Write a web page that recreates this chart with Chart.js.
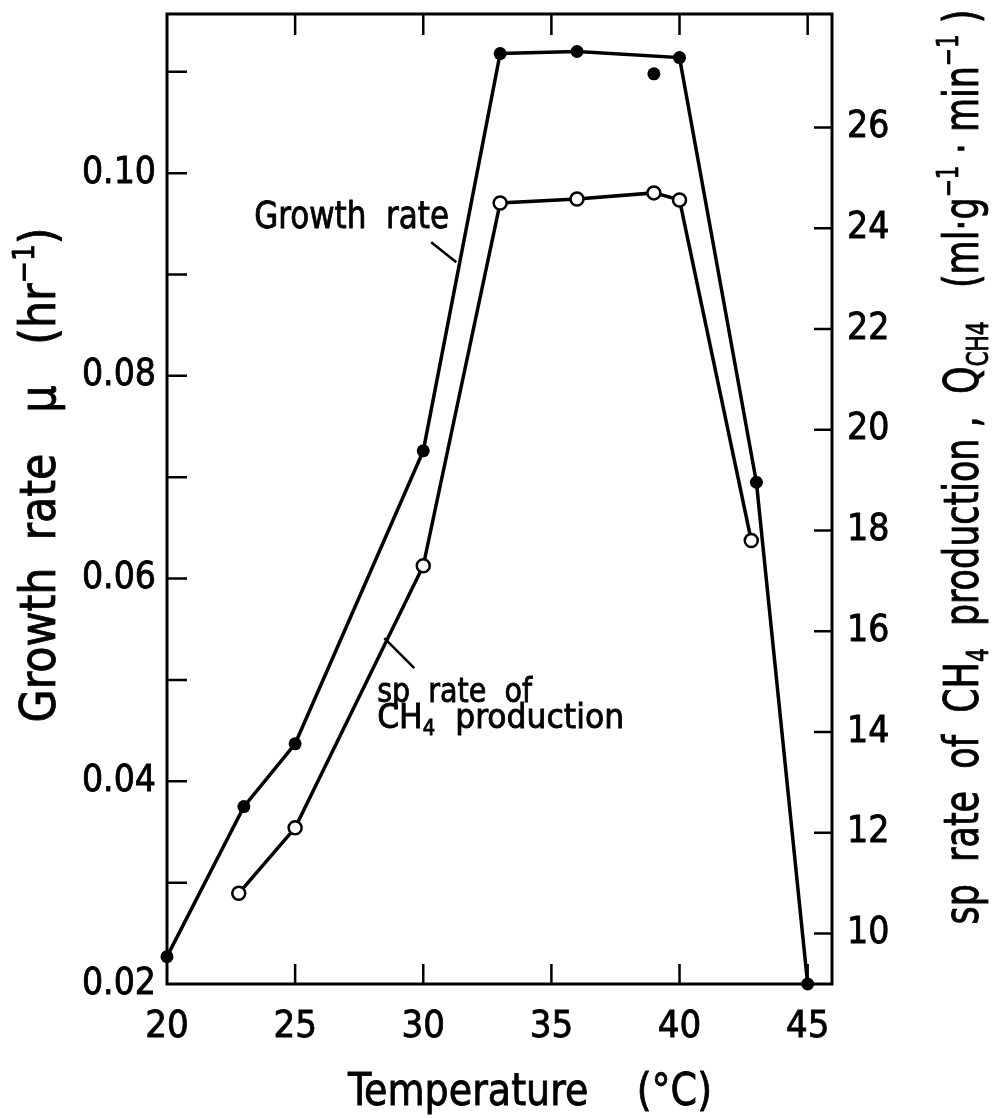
<!DOCTYPE html>
<html>
<head>
<meta charset="utf-8">
<script src="https://cdn.jsdelivr.net/npm/chart.js@4.4.1/dist/chart.umd.min.js"></script>
<style>
  html, body { margin: 0; padding: 0; background: #fff; }
  #wrap { width: 999px; height: 1118px; position: relative; }
</style>
</head>
<body>
<div id="wrap"><canvas id="grafico"></canvas></div>
<script>
// values
const growthTemps = [20, 23, 25, 30, 33, 36, 40, 43, 45];
const growthRate = [0.0227, 0.0375, 0.0437, 0.0726, 0.1118, 0.1120, 0.1114, 0.0695, 0.0200];
const strayTemps = [39];
const strayRate = [0.1098];
const ch4Temps = [22.8, 25, 30, 33, 36, 39, 40, 42.8];
const ch4Rate = [10.8, 12.1, 17.3, 24.5, 24.58, 24.7, 24.56, 17.8];

const xTicks = [20, 25, 30, 35, 40, 45];
const rightTicks = [10, 12, 14, 16, 18, 20, 22, 24, 26];

const FONT = "'DejaVu Sans Condensed', 'Liberation Sans Narrow', 'DejaVu Sans', sans-serif";

const pts = (xs, ys) => xs.map((x, i) => ({ x: x, y: ys[i] }));

// draw a line of text made of normal / sub / sup pieces, stretched to a width
function drawRich(ctx, parts, o) {
  ctx.save();
  ctx.translate(o.x, o.y);
  ctx.rotate(o.angle || 0);
  const pieces = parts.map(([t, k]) => {
    const s = k ? o.size * 0.62 : o.size;
    ctx.font = s + 'px ' + FONT;
    return { t, k, s, w: ctx.measureText(t).width };
  });
  const total = pieces.reduce((a, p) => a + p.w, 0);
  ctx.scale(o.width ? o.width / total : 1, 1);
  let cx = o.align === 'center' ? -total / 2 : 0;
  ctx.fillStyle = '#000';
  ctx.strokeStyle = '#000';
  ctx.lineWidth = 0.8;
  ctx.textAlign = 'left';
  ctx.textBaseline = 'alphabetic';
  for (const p of pieces) {
    ctx.font = p.s + 'px ' + FONT;
    const dy = p.k === 1 ? o.size * 0.2 : p.k === 2 ? -o.size * 0.42 : 0;
    ctx.fillText(p.t, cx, dy);
    ctx.strokeText(p.t, cx, dy);
    cx += p.w;
  }
  ctx.restore();
}

const noPad = s => { s.paddingTop = 0; s.paddingBottom = 0; s.paddingLeft = 0; s.paddingRight = 0; };

const frameTicks = {
  id: 'frameTicks',
  beforeDatasetsDraw(chart) {
    const { ctx, chartArea: a, scales } = chart;
    ctx.save();
    ctx.strokeStyle = '#000';
    ctx.lineWidth = 3;
    ctx.strokeRect(a.left, a.top, a.right - a.left, a.bottom - a.top);
    ctx.lineWidth = 2.5;
    ctx.beginPath();
    scales.x.ticks.forEach(t => {
      const px = scales.x.getPixelForValue(t.value);
      if (px <= a.left + 2 || px >= a.right - 2) return;
      ctx.moveTo(px, a.bottom); ctx.lineTo(px, a.bottom - 20);
      ctx.moveTo(px, a.top); ctx.lineTo(px, a.top + 21);
    });
    scales.y.ticks.forEach(t => {
      const py = scales.y.getPixelForValue(t.value);
      if (py >= a.bottom - 2) return;
      ctx.moveTo(a.left, py); ctx.lineTo(a.left + 20, py);
    });
    scales.y2.ticks.forEach(t => {
      const py = scales.y2.getPixelForValue(t.value);
      if (py >= a.bottom - 2) return;
      ctx.moveTo(a.right, py); ctx.lineTo(a.right - 18, py);
    });
    ctx.stroke();
    ctx.restore();
  },
  afterDraw(chart) {
    const { ctx, scales } = chart;
    const X = v => scales.x.getPixelForValue(v);
    const Y = v => scales.y.getPixelForValue(v);

    // axis titles
    drawRich(ctx, [['Growth  rate   \u03bc   (hr', 0], ['\u22121', 2], [')', 0]],
      { x: 55, y: 475, angle: -Math.PI / 2, size: 50, width: 495, align: 'center' });
    drawRich(ctx, [['sp  rate  of  CH', 0], ['4', 1], ['  production ,  Q', 0], ['CH4', 1],
      ['   (ml\u00b7g', 0], ['\u22121', 2], [' \u00b7 min', 0], ['\u22121', 2], [' )', 0]],
      { x: 978, y: 467, angle: -Math.PI / 2, size: 48, width: 915, align: 'center' });
    drawRich(ctx, [['Temperature    (\u00b0C)', 0]],
      { x: 530, y: 1105, size: 45, width: 364, align: 'center' });

    // in-plot labels with leader lines
    drawRich(ctx, [['Growth  rate', 0]], { x: X(23.4), y: Y(0.09456), size: 38, width: 195 });
    drawRich(ctx, [['sp  rate  of', 0]], { x: X(28.2), y: Y(0.04781), size: 34, width: 155 });
    drawRich(ctx, [['CH', 0], ['4', 1], ['  production', 0]], { x: X(28.2), y: Y(0.04525), size: 34, width: 247 });
    ctx.save();
    ctx.strokeStyle = '#000';
    ctx.lineWidth = 2.5;
    ctx.beginPath();
    ctx.moveTo(X(30.31), Y(0.09318)); ctx.lineTo(X(31.29), Y(0.0912));
    ctx.moveTo(X(28.48), Y(0.05412)); ctx.lineTo(X(29.65), Y(0.05116));
    ctx.stroke();
    ctx.restore();
  }
};

const tickFont = size => ({ family: FONT, size: size });

const ctx = document.getElementById('grafico').getContext('2d');
new Chart(ctx, {
  type: 'line',
  data: {
    datasets: [
      {
        label: 'Growth rate',
        data: pts(growthTemps, growthRate),
        yAxisID: 'y',
        borderColor: '#000',
        borderWidth: 3.5,
        backgroundColor: '#000',
        pointRadius: 6.5,
        pointBorderWidth: 0,
        pointBackgroundColor: '#000',
        tension: 0,
        clip: false
      },
      {
        label: 'Growth rate (39 \u00b0C)',
        data: pts(strayTemps, strayRate),
        yAxisID: 'y',
        showLine: false,
        pointRadius: 6.5,
        pointBorderWidth: 0,
        pointBackgroundColor: '#000',
        clip: false
      },
      {
        label: 'sp rate of CH4 production',
        data: pts(ch4Temps, ch4Rate),
        yAxisID: 'y2',
        borderColor: '#000',
        borderWidth: 3.5,
        pointRadius: 6.5,
        pointBorderWidth: 2.5,
        pointBorderColor: '#000',
        pointBackgroundColor: '#fff',
        tension: 0,
        clip: false
      }
    ]
  },
  options: {
    responsive: true,
    maintainAspectRatio: false,
    animation: false,
    layout: { padding: { top: 14, left: 0, right: 0, bottom: 0 } },
    plugins: {
      legend: { display: false },
      tooltip: { enabled: false }
    },
    scales: {
      x: {
        type: 'linear',
        min: 20,
        max: 45.95,
        grid: { display: false, drawTicks: false },
        border: { display: false },
        afterBuildTicks: s => { s.ticks = xTicks.map(v => ({ value: v })); },
        afterFit: s => { s.height = 134; noPad(s); },
        ticks: {
          color: '#000',
          padding: 20,
          autoSkip: false,
          maxRotation: 0,
          font: tickFont(38),
          textStrokeColor: '#000',
          textStrokeWidth: 0.8,
          callback: v => String(v)
        }
      },
      y: {
        position: 'left',
        min: 0.02,
        max: 0.1157,
        grid: { display: false, drawTicks: false },
        border: { display: false },
        afterFit: s => { s.width = 167; noPad(s); },
        ticks: {
          stepSize: 0.01,
          includeBounds: false,
          autoSkip: false,
          color: '#000',
          padding: 11,
          font: tickFont(37),
          textStrokeColor: '#000',
          textStrokeWidth: 0.8,
          callback: v => (Math.round(v * 100) % 2 === 0 ? v.toFixed(2) : '')
        }
      },
      y2: {
        position: 'right',
        min: 9,
        max: 28.25,
        grid: { display: false, drawTicks: false },
        border: { display: false },
        afterBuildTicks: s => { s.ticks = rightTicks.map(v => ({ value: v })); },
        afterFit: s => { s.width = 167; noPad(s); },
        ticks: {
          autoSkip: false,
          color: '#000',
          padding: 15,
          font: tickFont(37),
          textStrokeColor: '#000',
          textStrokeWidth: 0.8,
          callback: v => String(v)
        }
      }
    }
  },
  plugins: [frameTicks]
});
</script>
</body>
</html>
